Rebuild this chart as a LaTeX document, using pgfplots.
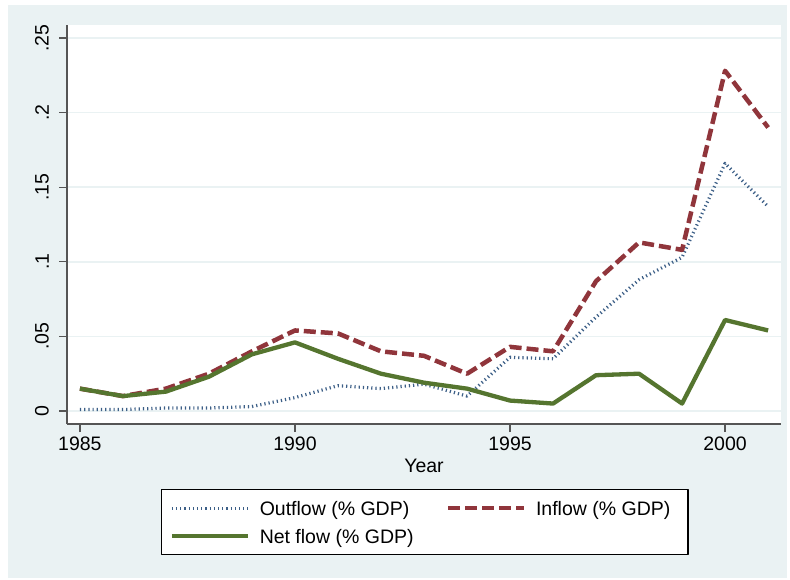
\documentclass[border=0pt]{standalone}
\usepackage{fontspec}
\setmainfont{Liberation Sans}
\usepackage{pgfplots}
\pgfplotsset{compat=1.18}
\definecolor{bgc}{RGB}{234,242,243}
\definecolor{gridc}{RGB}{234,242,243}
\definecolor{outc}{RGB}{60,95,135}
\definecolor{maroonc}{RGB}{144,53,59}
\definecolor{greenc}{RGB}{85,117,47}
\definecolor{axc}{RGB}{85,85,85}

\pgfplotstableread{
year out in net
1985 0.001 0.015 0.015
1986 0.001 0.010 0.010
1987 0.002 0.015 0.013
1988 0.002 0.025 0.023
1989 0.003 0.040 0.038
1990 0.009 0.054 0.046
1991 0.017 0.052 0.035
1992 0.015 0.040 0.025
1993 0.018 0.037 0.019
1994 0.010 0.025 0.015
1995 0.036 0.043 0.007
1996 0.035 0.040 0.005
1997 0.063 0.087 0.024
1998 0.088 0.113 0.025
1999 0.103 0.108 0.005
2000 0.166 0.228 0.061
2001 0.137 0.190 0.054
}\flows

\begin{document}
\begin{tikzpicture}[x=1pt,y=1pt]
\fill[bgc] (8,1) rectangle (787,574);
\begin{axis}[
 at={(67pt,155pt)}, anchor=south west,
 scale only axis, width=714pt, height=399pt,
 xmin=1984.7, xmax=2001.3, ymin=-0.0087, ymax=0.2587,
 axis lines=left, axis line style={-, color=axc, line width=1.3pt},
 axis background/.style={fill=white},
 tick align=outside, major tick length=8pt,
 tick style={color=axc, line width=1.3pt},
 xtick={1985,1990,1995,2000}, xticklabels={1985,1990,1995,2000},
 ytick={0,0.05,0.1,0.15,0.2,0.25}, yticklabels={0,.05,.1,.15,.2,.25},
 ymajorgrids, major grid style={color=gridc, line width=1.5pt},
 font=\fontsize{19.5}{23}\selectfont,
 xticklabel style={inner sep=0pt, anchor=north},
 xticklabel shift=5pt,
 yticklabel style={rotate=90, anchor=south, inner sep=0pt},
 yticklabel shift=10pt,
 xlabel={Year},
 xlabel style={at={(axis description cs:0.5,0)}, anchor=center, yshift=-42pt},
 legend columns=2,
 legend cell align=left,
 legend style={at={(0.13165,-0.1629)}, anchor=north west, draw=black,
   line width=1.2pt, fill=white, inner xsep=8pt, inner ysep=4.5pt,
   nodes={inner sep=0pt, text height=21pt, text depth=7pt, anchor=west},
   font=\fontsize{19.5}{23}\selectfont},
 legend image code/.code={\draw[#1] (0pt,0pt) -- (76pt,0pt); \path[draw=none] (0pt,0pt) -- (88pt,0pt);},
 line join=round,
]
\addplot[color=outc, line width=3.2pt, dash pattern=on 1.2pt off 3pt] table[x=year,y=out] {\flows};
\addlegendentry{\makebox[186pt][l]{Outflow (\% GDP)}}
\addplot[color=maroonc, line width=4.5pt, dash pattern=on 12pt off 5pt] table[x=year,y=in] {\flows};
\addlegendentry{\makebox[144pt][l]{Inflow (\% GDP)}}
\addplot[color=greenc, line width=4.3pt] table[x=year,y=net] {\flows};
\addlegendentry{\makebox[186pt][l]{Net flow (\% GDP)}}
\end{axis}
\useasboundingbox (0,0) rectangle (790,579);
\end{tikzpicture}
\end{document}
